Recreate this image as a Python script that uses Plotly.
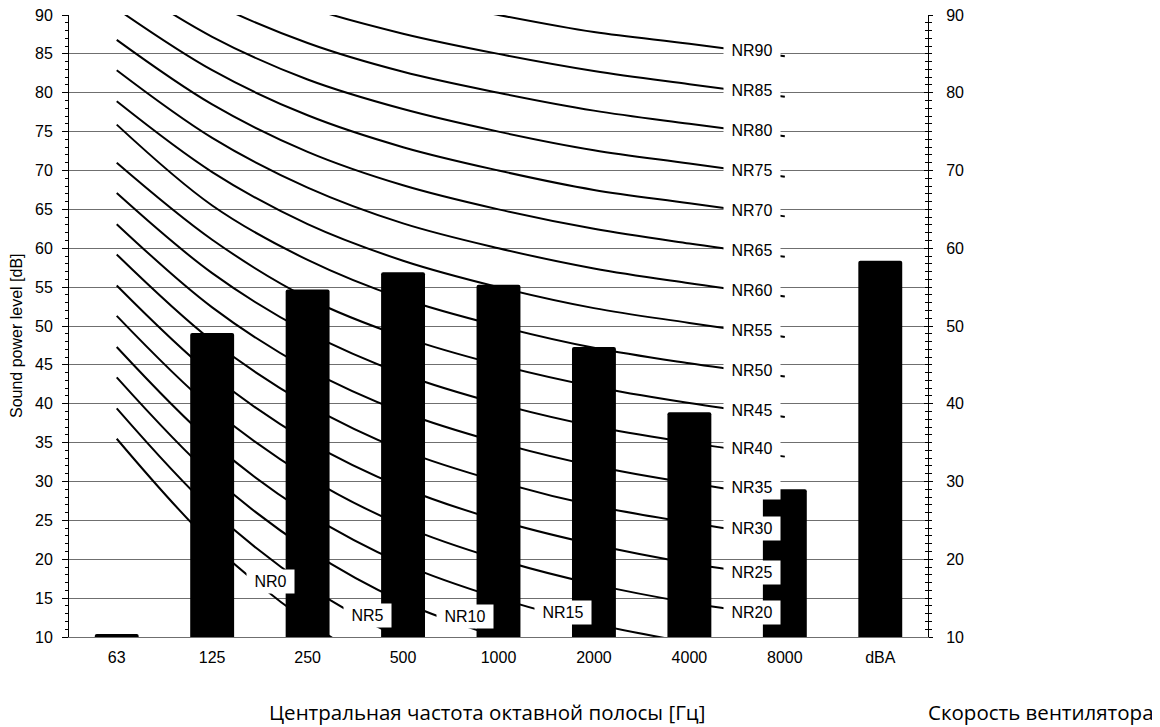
import numpy as np
import plotly.graph_objects as go

# ---------------- data ----------------
bands = ["63", "125", "250", "500", "1000", "2000", "4000", "8000", "dBA"]
levels = [10.4, 49.1, 54.7, 56.9, 55.3, 47.3, 38.9, 29.0, 58.4]

nr_bands = ["63", "125", "250", "500", "1000", "2000", "4000", "8000"]
nr0 = [35.5, 22.0, 12.0, 4.8, 0.0, -3.5, -6.1, -8.0]
nr5 = [39.4, 26.3, 16.6, 9.7, 5.0, 1.6, -1.0, -2.8]
nr10 = [43.4, 30.7, 21.3, 14.5, 10.0, 6.6, 4.2, 2.3]
nr15 = [47.3, 35.0, 25.9, 19.4, 15.0, 11.7, 9.3, 7.4]
nr20 = [51.3, 39.4, 30.6, 24.3, 20.0, 16.8, 14.4, 12.6]
nr25 = [55.2, 43.7, 35.2, 29.2, 25.0, 21.9, 19.5, 17.7]
nr30 = [59.2, 48.1, 39.9, 34.0, 30.0, 26.9, 24.7, 22.9]
nr35 = [63.1, 52.4, 44.5, 38.9, 35.0, 32.0, 29.8, 28.0]
nr40 = [67.1, 56.8, 49.2, 43.8, 40.0, 37.1, 35.0, 33.2]
nr45 = [71.0, 61.1, 53.6, 48.6, 45.0, 42.2, 40.1, 38.3]
nr50 = [75.9, 65.5, 58.5, 53.5, 50.0, 47.2, 45.2, 43.5]
nr55 = [78.9, 69.8, 63.1, 58.4, 55.0, 52.3, 50.4, 48.6]
nr60 = [82.9, 74.2, 67.8, 63.2, 60.0, 57.4, 55.5, 53.8]
nr65 = [86.8, 78.5, 72.4, 68.1, 65.0, 62.5, 60.6, 58.9]
nr70 = [90.8, 82.9, 77.1, 73.0, 70.0, 67.5, 65.8, 64.1]
nr75 = [94.7, 87.2, 81.7, 77.9, 75.0, 72.6, 70.9, 69.2]
nr80 = [98.7, 91.6, 86.4, 82.7, 80.0, 77.7, 76.0, 74.4]
nr85 = [102.6, 95.9, 91.0, 87.6, 85.0, 82.8, 81.1, 79.5]
nr90 = [106.6, 100.3, 95.7, 92.5, 90.0, 87.8, 86.3, 84.7]

nr_names = ["NR0", "NR5", "NR10", "NR15", "NR20", "NR25", "NR30", "NR35", "NR40",
            "NR45", "NR50", "NR55", "NR60", "NR65", "NR70", "NR75", "NR80", "NR85", "NR90"]
nr_curves = [nr0, nr5, nr10, nr15, nr20, nr25, nr30, nr35, nr40, nr45, nr50,
             nr55, nr60, nr65, nr70, nr75, nr80, nr85, nr90]

x_title = "Центральная частота октавной полосы [Гц]"
y_title = "Sound power level [dB]"
legend_title = "Скорость вентилятора"

# ---------------- label placement (layout) ----------------
label_pos = [1.61, 2.63, 3.65, 4.68] + [6.66] * 15
label_dy = [1.3, 0.5, 1.0, 0.4] + [0.0, 0.0, 0.4, 0.6, 0.4] + [0.2] * 10

FONT = "Liberation Sans, Arial, sans-serif"
TFONT = "Open Sans, sans-serif"
GRID = "#6f6f6f"

fig = go.Figure()

idx_nr = list(range(len(nr_bands)))
for name, vals in zip(nr_names, nr_curves):
    fig.add_trace(go.Scatter(
        x=idx_nr, y=vals, mode="lines", name=name,
        line=dict(color="black", width=2, shape="spline"),
        xaxis="x", yaxis="y", showlegend=False, hoverinfo="skip"))

fig.add_trace(go.Bar(
    x=list(range(len(bands))), y=levels, width=0.46,
    marker=dict(color="black", line=dict(width=0), cornerradius=2),
    xaxis="x", yaxis="y2", showlegend=False))

# dummy trace for the inner-tick right axis
fig.add_trace(go.Scatter(x=[None], y=[None], xaxis="x", yaxis="y3",
                         showlegend=False, hoverinfo="skip"))

annotations = []
for name, vals, lx, dy in zip(nr_names, nr_curves, label_pos, label_dy):
    ly = float(np.interp(lx, idx_nr, vals)) + dy
    annotations.append(dict(
        x=lx, y=ly, xref="x", yref="y", text="\u00a0" + name + "\u00a0",
        xanchor="center", yanchor="middle",
        showarrow=False, bgcolor="white", borderpad=3,
        font=dict(family=FONT, size=16, color="black")))

# plot area (figure px): x 61..920, y 7..629 ; height 622, width 859
annotations.append(dict(
    x=-0.0617, y=0.4855, xref="paper", yref="paper", text=y_title,
    xanchor="center", yanchor="middle",
    textangle=-90, showarrow=False, font=dict(family=FONT, size=16, color="black")))
annotations.append(dict(
    x=0.4866, y=-0.1206, xref="paper", yref="paper", text=x_title,
    xanchor="center", yanchor="middle",
    showarrow=False, font=dict(family=TFONT, size=20.5, color="black")))
annotations.append(dict(
    x=1.132, y=-0.1206, xref="paper", yref="paper", text=legend_title,
    xanchor="center", yanchor="middle",
    showarrow=False, font=dict(family=TFONT, size=20.5, color="black")))

fig.update_layout(
    template="none",
    width=1152, height=719,
    margin=dict(l=61, r=232, t=7, b=90, autoexpand=False),
    paper_bgcolor="white", plot_bgcolor="white",
    showlegend=False,
    annotations=annotations,
    xaxis=dict(
        range=[-0.5, 8.5], tickmode="array", tickvals=list(range(len(bands))),
        ticktext=bands, ticks="", showgrid=False, zeroline=False, automargin=False,
        showline=True, linecolor=GRID, linewidth=1, ticklabeloverflow="allow",
        tickfont=dict(family=FONT, size=16, color="black"), ticklabelstandoff=6),
    yaxis=dict(
        range=[10, 90], tickmode="linear", tick0=10, dtick=5, automargin=False,
        ticks="outside", ticklen=6, tickwidth=1, tickcolor="black",
        minor=dict(dtick=1, ticks="outside", ticklen=3, tickcolor="black", showgrid=False),
        showgrid=True, gridcolor=GRID, gridwidth=1, zeroline=False,
        showline=True, linecolor="black", linewidth=1, ticklabeloverflow="allow",
        tickfont=dict(family=FONT, size=16, color="black"), ticklabelstandoff=6),
    yaxis2=dict(
        range=[10, 90], overlaying="y", side="right", anchor="x", automargin=False,
        tickmode="linear", tick0=10, dtick=10, ticklabeloverflow="allow",
        ticks="outside", ticklen=4, tickwidth=1, tickcolor="black",
        minor=dict(dtick=1, ticks="outside", ticklen=3, tickcolor="black", showgrid=False),
        showgrid=False, zeroline=False,
        showline=True, linecolor="black", linewidth=1,
        tickfont=dict(family=FONT, size=16, color="black"), ticklabelstandoff=10),
    yaxis3=dict(
        range=[10, 90], overlaying="y", side="right", anchor="x", automargin=False,
        tickmode="linear", tick0=10, dtick=10, showticklabels=False,
        ticks="inside", ticklen=4, tickwidth=1, tickcolor="black",
        minor=dict(dtick=1, ticks="inside", ticklen=3, tickcolor="black", showgrid=False),
        showgrid=False, zeroline=False, showline=False),
)

fig.write_html("out.html")
